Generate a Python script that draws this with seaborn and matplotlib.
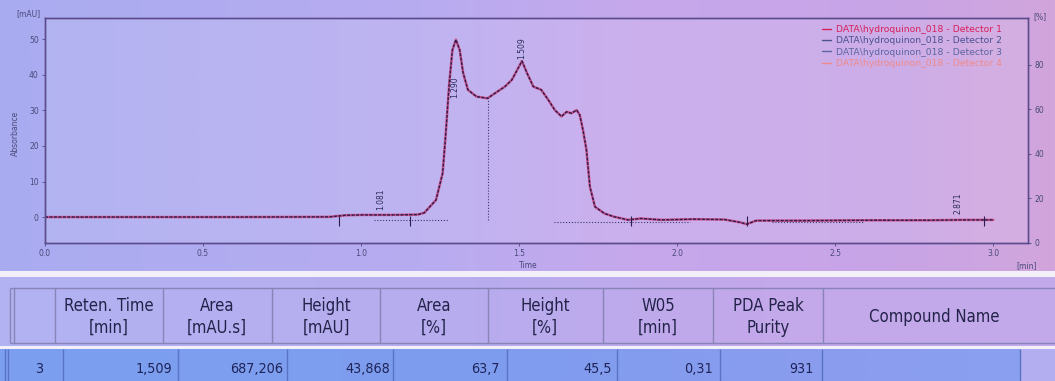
import numpy as np
import pandas as pd
import matplotlib
matplotlib.use("Agg")
import matplotlib.pyplot as plt
import seaborn as sns
from matplotlib.lines import Line2D
from matplotlib.patches import Rectangle
from matplotlib.colors import to_rgb

# ---------------- data ----------------
time_min = [0.00, 0.30, 0.60, 0.90, 0.95, 1.00, 1.10, 1.18, 1.200, 1.237, 1.258, 1.268,
            1.279, 1.289, 1.300, 1.312, 1.323, 1.338, 1.365, 1.400, 1.423, 1.455, 1.477,
            1.497, 1.509, 1.525, 1.545, 1.570, 1.592, 1.613, 1.634, 1.650, 1.666, 1.682,
            1.692, 1.702, 1.713, 1.724, 1.740, 1.770, 1.800, 1.845, 1.885, 1.950, 2.050,
            2.150, 2.200, 2.220, 2.250, 2.400, 2.600, 2.800, 2.900, 3.000]
absorbance = [0.0, 0.0, 0.0, 0.05, 0.5, 0.6, 0.6, 0.7, 1.2, 4.8, 12.3, 23.6,
              37.7, 47.0, 49.9, 47.0, 40.5, 35.8, 33.9, 33.4, 34.8, 36.7, 38.6,
              41.9, 43.9, 40.5, 36.7, 35.8, 33.0, 30.1, 28.3, 29.6, 29.2, 30.1,
              28.7, 24.5, 18.9, 8.5, 2.9, 1.0, 0.1, -0.8, -0.4, -0.8, -0.6,
              -0.7, -1.5, -2.0, -1.0, -1.0, -0.9, -0.9, -0.8, -0.8]

peak_times = [1.063, 1.296, 1.507, 2.890]
peak_names = ["1.081", "1.290", "1.509", "2.871"]
peak_label_y = [2.0, 33.5, 44.5, 0.8]

mark_times = [0.93, 1.155, 1.855, 2.22, 2.97]
base_start = [1.04, 1.61, 2.30]
base_end = [1.275, 2.04, 2.59]
base_level = [-0.8, -1.3, -1.3]
drop_time = [1.40]
drop_top = [33.4]

x_ticks = [0.0, 0.5, 1.0, 1.5, 2.0, 2.5, 3.0]
y_ticks = [0, 10, 20, 30, 40, 50]
pct_ticks = [0, 20, 40, 60, 80]

legend_labels = ["DATA\\hydroquinon_018 - Detector 1",
                 "DATA\\hydroquinon_018 - Detector 2",
                 "DATA\\hydroquinon_018 - Detector 3",
                 "DATA\\hydroquinon_018 - Detector 4"]
legend_colors = ["#d8205a", "#4a5290", "#5c66a0", "#f08a8a"]

table_headers = ["Reten. Time\n[min]", "Area\n[mAU.s]", "Height\n[mAU]", "Area\n[%]",
                 "Height\n[%]", "W05\n[min]", "PDA Peak\nPurity", "Compound Name"]
row_values = ["3", "1,509", "687,206", "43,868", "63,7", "45,5", "0,31", "931", ""]

# ---------------- layout / style ----------------
sns.set_theme(style="white")
plt.rcParams['font.family'] = ['DejaVu Sans']

W, H = 1055, 381
fig = plt.figure(figsize=(W / 100, H / 100), dpi=100)
fig.patch.set_facecolor('#f3eff9')


def px_axes(x0, y0, x1, y1):
    return fig.add_axes([x0 / W, 1 - y1 / H, (x1 - x0) / W, (y1 - y0) / H])


def hgrad(ax, stops, extent):
    xs = np.linspace(0, 1, 300)
    pos = [s[0] for s in stops]
    cols = np.array([to_rgb(s[1]) for s in stops])
    img = np.stack([np.interp(xs, pos, cols[:, k]) for k in range(3)], axis=-1)[None, :, :]
    ax.imshow(img, extent=extent, aspect='auto', zorder=0, interpolation='bilinear')


# background of chart panel
bg = px_axes(0, 0, W, 271)
hgrad(bg, [(0, '#a9abf0'), (0.4, '#b8acf0'), (0.6, '#c6a8ec'), (0.85, '#c8a4e6'), (1, '#d2a6dc')],
      (0, 1, 0, 1))
bg.set_xlim(0, 1)
bg.set_ylim(0, 1)
bg.axis('off')

ax = px_axes(45, 18, 1028, 243)
ax.patch.set_facecolor((1, 1, 1, 0.10))

df = pd.DataFrame({"time": time_min, "abs": absorbance})
sns.lineplot(data=df, x="time", y="abs", ax=ax, color='#c8407a', lw=1.8, alpha=0.85)
sns.lineplot(data=df, x="time", y="abs", ax=ax, color='#2c1c4c', lw=1.0,
             linestyle=(0, (2.2, 1.0)))

ax.hlines(base_level, base_start, base_end, colors='#3a3a6a', linestyles=(0, (1, 1.6)), lw=0.8)
ax.vlines(drop_time, -0.8, drop_top, colors='#3a3a6a', linestyles=(0, (1, 1.6)), lw=0.8)
ax.vlines(mark_times, -2.4, 0.3, colors='#2c1c4c', lw=0.8)
for t, lab, y in zip(peak_times, peak_names, peak_label_y):
    ax.text(t, y, lab, rotation=90, ha='center', va='bottom', fontsize=5.5, color='#2c2c5a')

ax.set_xlim(0, 3.11)
ax.set_ylim(-7.3, 56)
ax.set_xticks(x_ticks)
ax.set_xticklabels([f"{v:.1f}" for v in x_ticks])
ax.set_yticks(y_ticks)
ax.set_xlabel('')
ax.set_ylabel('')
ax.tick_params(axis='both', bottom=True, left=True, labelsize=5.5, colors='#4a4a7a',
               length=2.5, width=0.6, direction='out', pad=2)
for s in ax.spines.values():
    s.set_color('#5c4c8c')
    s.set_linewidth(1.0)

leg_handles = [Line2D([0], [0], color=c, lw=1) for c in legend_colors]
leg = ax.legend(leg_handles, legend_labels, loc='upper right',
                bbox_to_anchor=((1002 - 45) / 983, 1 - (25 - 18) / 225),
                frameon=False, fontsize=6.7, handlelength=1.0, handletextpad=0.5,
                labelspacing=0.25, borderaxespad=0, borderpad=0)
for txt, c in zip(leg.get_texts(), legend_colors):
    txt.set_color(c)

ax2 = ax.twinx()
ax2.set_ylim(0, 101)
ax2.set_yticks(pct_ticks)
ax2.grid(False)
ax2.tick_params(axis='y', right=True, labelsize=5.5, colors='#4a4a7a', length=2.5,
                width=0.6, direction='out', pad=2)
for s in ax2.spines.values():
    s.set_color('#5c4c8c')
    s.set_linewidth(1.0)


def ftext(x, y, s, **kw):
    return fig.text(x / W, 1 - y / H, s, **kw)


ftext(28, 14, "[mAU]", fontsize=5.5, color='#4a4a7a', ha='center', va='center')
ftext(15, 133, "Absorbance", fontsize=5.5, color='#4a4a7a', ha='center', va='center', rotation=90)
ftext(528, 265, "Time", fontsize=5.5, color='#4a4a7a', ha='center', va='center')
ftext(1027, 266, "[min]", fontsize=5.5, color='#4a4a7a', ha='center', va='center')
ftext(1040, 17, "[%]", fontsize=5.5, color='#4a4a7a', ha='center', va='center')

# ---------------- table ----------------
tab = px_axes(0, 271, W, 381)
hgrad(tab, [(0, '#b2b2f2'), (0.45, '#b8acee'), (0.75, '#c4a8ea'), (1, '#c2aaea')], (0, W, 346, 277))
hgrad(tab, [(0, '#7c9ff0'), (0.5, '#7f9cee'), (0.8, '#8a9cee'), (1, '#8aa0f0')], (0, 1020, 381, 349))
tab.add_patch(Rectangle((1020, 349), W - 1020, 32, fc='#b2aef0', ec='none', zorder=1))
tab.set_xlim(0, W)
tab.set_ylim(381, 271)
tab.axis('off')

head_bounds = [10, 14, 55, 163, 272, 380, 488, 603, 713, 823]
row_bounds = [5, 8, 63, 178, 287, 393, 507, 617, 720, 822, 1020]
head_centers = [109, 217, 326, 434, 545, 658, 768, 934]
row_right = [172, 283, 390, 500, 612, 713, 813]

tab.hlines([288, 343], 10, W, colors='#8884b8', lw=1, zorder=2)
tab.vlines(head_bounds, 288, 343, colors='#8884b8', lw=1, zorder=2)
tab.vlines(row_bounds, 349, 381, colors='#5a74c4', lw=1, zorder=2)

renderer = fig.canvas.get_renderer()


def fit_size(sample, target_w, base=10, **kw):
    t = tab.text(0, 0, sample, fontsize=base, **kw)
    w = t.get_window_extent(renderer).width
    t.remove()
    return base * target_w / w


tfont = dict(family='DejaVu Sans', fontstretch='condensed')
hsize = fit_size("Reten. Time", 90, **tfont)
rsize = fit_size("687,206", 53, **tfont)
ls = 21 / (hsize * 100 / 72) / 1.0

for cx, label in zip(head_centers, table_headers):
    tab.text(cx, 317, label, ha='center', va='center', fontsize=hsize, color='#23234a',
             linespacing=ls if '\n' in label else 1.0, zorder=3, **tfont)

tab.text(39, 369, row_values[0], ha='center', va='center', fontsize=rsize, color='#1e2458',
         zorder=3, **tfont)
for rx, val in zip(row_right, row_values[1:8]):
    tab.text(rx, 369, val, ha='right', va='center', fontsize=rsize, color='#1e2458',
             zorder=3, **tfont)

fig.savefig("out.png", dpi=100, facecolor=fig.get_facecolor())
